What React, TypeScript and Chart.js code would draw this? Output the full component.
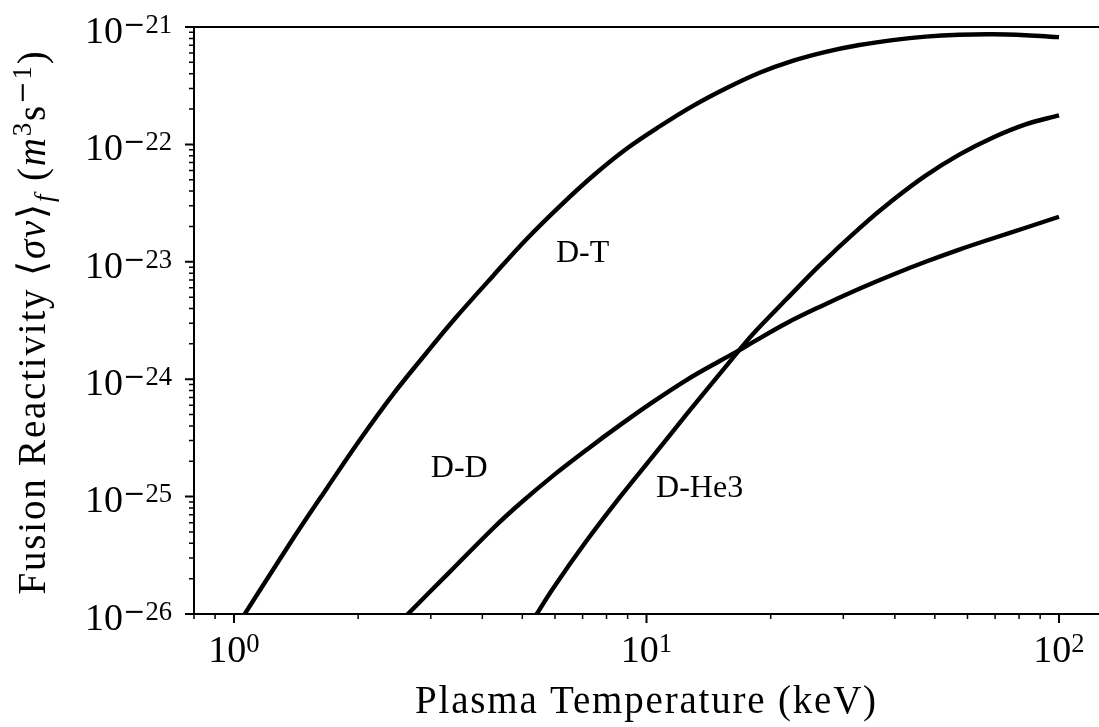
import React, { useEffect, useRef } from "react";
import { Chart, registerables } from "chart.js";

Chart.register(...registerables);

// ---------- data ----------
const DT_T = [1.0, 1.39, 1.68, 2.02, 2.43, 2.93, 3.43, 4.25, 5.11, 6.16, 7.41, 8.93, 10.75, 12.9, 15.6, 18.8, 22.6, 27.2, 32.8, 39.5, 47.5, 57.3, 69.0, 83.0, 100];
const DT_SV = [7.19e-27, 4.37e-26, 1.18e-25, 3.05e-25, 7.43e-25, 1.68e-24, 3.27e-24, 7.62e-24, 1.55e-23, 2.97e-23, 5.38e-23, 9.14e-23, 1.42e-22, 2.11e-22, 3.01e-22, 4.08e-22, 5.15e-22, 6.15e-22, 7.03e-22, 7.74e-22, 8.28e-22, 8.59e-22, 8.67e-22, 8.51e-22, 8.2e-22];

const DD_T = [2.5, 2.64, 3.35, 4.25, 4.93, 5.94, 7.15, 8.62, 10.37, 12.5, 15.05, 16.67, 18.12, 21.83, 26.28, 32.8, 39.5, 47.5, 57.3, 69.0, 83.0, 100];
const DD_SV = [8.2e-27, 1.0e-26, 2.32e-26, 5.38e-26, 8.69e-26, 1.51e-25, 2.5e-25, 4.06e-25, 6.41e-25, 9.84e-25, 1.43e-24, 1.74e-24, 2.07e-24, 3.0e-24, 4.13e-24, 5.89e-24, 7.76e-24, 1.0e-23, 1.27e-23, 1.58e-23, 1.95e-23, 2.42e-23];

const DHE3_T = [5.0, 5.42, 5.94, 7.15, 8.62, 10.37, 12.5, 15.05, 16.67, 18.12, 21.83, 26.28, 32.8, 39.5, 47.5, 57.3, 69.0, 83.0, 100];
const DHE3_SV = [6.27e-27, 1.0e-26, 1.66e-26, 4.18e-26, 9.89e-26, 2.21e-25, 5.01e-25, 1.11e-24, 1.72e-24, 2.43e-24, 4.79e-24, 9.33e-24, 1.93e-23, 3.34e-23, 5.42e-23, 8.18e-23, 1.14e-22, 1.48e-22, 1.77e-22];

const CURVE_LABELS = ["D-T", "D-D", "D-He3"];
const CURVE_LABEL_T = [6.03, 3.0, 10.55];
const CURVE_LABEL_SV = [1.0e-23, 1.48e-25, 1.0e-25];

const X_MIN = 0.8;
const X_MAX = 125;
const Y_MIN = 1e-26;
const Y_MAX = 1e-21;

const X_MAJOR_TICKS = [1, 10, 100];
const X_TICK_EXPONENTS = ["0", "1", "2"];
const X_MINOR_TICKS = [0.8, 0.9, 2, 3, 4, 5, 6, 7, 8, 9, 20, 30, 40, 50, 60, 70, 80, 90];

const Y_MAJOR_TICKS = [1e-21, 1e-22, 1e-23, 1e-24, 1e-25, 1e-26];
const Y_TICK_EXPONENTS = ["21", "22", "23", "24", "25", "26"];
const Y_MINOR_DECADES = [1e-26, 1e-25, 1e-24, 1e-23, 1e-22];
const Y_MINOR_MULTIPLIERS = [2, 3, 4, 5, 6, 7, 8, 9];

const TICK_BASE = "10";
const MINUS = "\u2212";
const X_TITLE = "Plasma Temperature (keV)";

// ---------- styling ----------
const FAMILY = '"Liberation Serif", "DejaVu Serif", serif';
const MINUS_FAMILY = '"DejaVu Serif", serif';

type Seg = { t: string; size: number; italic?: boolean; dy?: number; family?: string };

const Y_TITLE_SEGS: Seg[] = [
  { t: "Fusion Reactivity ", size: 39 },
  { t: "\u27E8", size: 39 },
  { t: "\u03C3v", size: 39, italic: true },
  { t: "\u27E9", size: 39 },
  { t: "f", size: 27, italic: true, dy: 8 },
  { t: " (", size: 39 },
  { t: "m", size: 39, italic: true },
  { t: "3", size: 27, dy: -14 },
  { t: "s", size: 39 },
  { t: MINUS, size: 27, dy: -14, family: MINUS_FAMILY },
  { t: "1", size: 27, dy: -14 },
  { t: ")", size: 39 },
];

function setFont(ctx: CanvasRenderingContext2D, s: Seg) {
  ctx.font = `${s.italic ? "italic " : ""}${s.size}px ${s.family || FAMILY}`;
}

function segsWidth(ctx: CanvasRenderingContext2D, segs: Seg[], spacing: number) {
  let w = 0;
  for (const s of segs) {
    setFont(ctx, s);
    (ctx as any).letterSpacing = `${spacing}px`;
    w += ctx.measureText(s.t).width;
  }
  return w;
}

function drawSegs(ctx: CanvasRenderingContext2D, segs: Seg[], x: number, y: number, spacing: number) {
  let cx = x;
  for (const s of segs) {
    setFont(ctx, s);
    (ctx as any).letterSpacing = `${spacing}px`;
    ctx.fillText(s.t, cx, y + (s.dy || 0));
    cx += ctx.measureText(s.t).width;
  }
}

function powerSegs(exp: string, negative: boolean): Seg[] {
  const segs: Seg[] = [{ t: TICK_BASE, size: 38 }];
  if (negative) segs.push({ t: MINUS, size: 26.6, dy: -10, family: MINUS_FAMILY });
  segs.push({ t: exp, size: 26.6, dy: -10 });
  return segs;
}

const overlayPlugin = {
  id: "overlay",
  afterDraw(chart: any) {
    const ctx: CanvasRenderingContext2D = chart.ctx;
    const a = chart.chartArea;
    const xs = chart.scales.x;
    const ys = chart.scales.y;
    ctx.save();
    ctx.strokeStyle = "#000";
    ctx.fillStyle = "#000";
    ctx.textBaseline = "alphabetic";
    ctx.textAlign = "left";

    // spines (left, bottom, top)
    ctx.lineWidth = 2;
    ctx.beginPath();
    ctx.moveTo(a.left - 1, a.top);
    ctx.lineTo(a.right + 2, a.top);
    ctx.moveTo(a.left, a.top - 1);
    ctx.lineTo(a.left, a.bottom + 1);
    ctx.moveTo(a.left - 1, a.bottom);
    ctx.lineTo(a.right + 2, a.bottom);
    ctx.stroke();

    // major ticks
    ctx.lineWidth = 2;
    ctx.beginPath();
    for (const v of X_MAJOR_TICKS) {
      const px = xs.getPixelForValue(v);
      ctx.moveTo(px, a.bottom);
      ctx.lineTo(px, a.bottom + 9);
    }
    for (const v of Y_MAJOR_TICKS) {
      const py = ys.getPixelForValue(v);
      ctx.moveTo(a.left, py);
      ctx.lineTo(a.left - 9, py);
    }
    ctx.stroke();

    // minor ticks
    ctx.lineWidth = 1.5;
    ctx.beginPath();
    for (const v of X_MINOR_TICKS) {
      const px = xs.getPixelForValue(v);
      ctx.moveTo(px, a.bottom);
      ctx.lineTo(px, a.bottom + 5);
    }
    for (const d of Y_MINOR_DECADES) {
      for (const m of Y_MINOR_MULTIPLIERS) {
        const py = ys.getPixelForValue(m * d);
        ctx.moveTo(a.left, py);
        ctx.lineTo(a.left - 5, py);
      }
    }
    ctx.stroke();

    // x tick labels
    X_MAJOR_TICKS.forEach((v, i) => {
      const px = xs.getPixelForValue(v);
      const segs = powerSegs(X_TICK_EXPONENTS[i], false);
      const w = segsWidth(ctx, segs, 0);
      drawSegs(ctx, segs, px - w / 2, a.bottom + 48, 0);
    });

    // y tick labels
    Y_MAJOR_TICKS.forEach((v, i) => {
      const py = ys.getPixelForValue(v);
      const segs = powerSegs(Y_TICK_EXPONENTS[i], true);
      const w = segsWidth(ctx, segs, 0);
      drawSegs(ctx, segs, a.left - 22 - w, py + 15.7, 0);
    });

    // x title
    const xt: Seg[] = [{ t: X_TITLE, size: 39 }];
    const xw = segsWidth(ctx, xt, 1.8);
    drawSegs(ctx, xt, (a.left + a.right) / 2 - xw / 2, a.bottom + 99, 1.8);

    // y title (rotated)
    ctx.save();
    ctx.translate(45, (a.top + a.bottom) / 2 + 1.5);
    ctx.rotate(-Math.PI / 2);
    const yw = segsWidth(ctx, Y_TITLE_SEGS, 1.8);
    drawSegs(ctx, Y_TITLE_SEGS, -yw / 2, 0, 1.8);
    ctx.restore();

    // curve labels
    CURVE_LABELS.forEach((lab, i) => {
      const px = xs.getPixelForValue(CURVE_LABEL_T[i]);
      const py = ys.getPixelForValue(CURVE_LABEL_SV[i]);
      drawSegs(ctx, [{ t: lab, size: 32 }], px, py, 0);
    });

    (ctx as any).letterSpacing = "0px";
    ctx.restore();
  },
};

function pts(ts: number[], vs: number[]) {
  return ts.map((t, i) => ({ x: t, y: vs[i] }));
}

export default function App() {
  const ref = useRef<HTMLCanvasElement>(null);

  useEffect(() => {
    const canvas = ref.current;
    if (!canvas) return;
    const line = (label: string, data: { x: number; y: number }[]) => ({
      label,
      data,
      borderColor: "#000",
      backgroundColor: "#000",
      borderWidth: 4.4,
      pointRadius: 0,
      pointHoverRadius: 0,
      fill: false,
      tension: 0.35,
      clip: 0,
    });
    const chart = new Chart(canvas, {
      type: "line",
      data: {
        datasets: [
          line(CURVE_LABELS[0], pts(DT_T, DT_SV)),
          line(CURVE_LABELS[1], pts(DD_T, DD_SV)),
          line(CURVE_LABELS[2], pts(DHE3_T, DHE3_SV)),
        ],
      },
      options: {
        animation: false,
        responsive: false,
        devicePixelRatio: 1,
        events: [],
        layout: { padding: { left: 194, top: 27, right: 0, bottom: 113 } },
        plugins: {
          legend: { display: false },
          tooltip: { enabled: false },
          title: { display: false },
        },
        scales: {
          x: { type: "logarithmic", min: X_MIN, max: X_MAX, display: false },
          y: { type: "logarithmic", min: Y_MIN, max: Y_MAX, display: false },
        },
      },
      plugins: [overlayPlugin],
    });
    return () => chart.destroy();
  }, []);

  return (
    <div style={{ position: "fixed", left: 0, top: 0, width: 1099, height: 727, background: "#fff" }}>
      <canvas ref={ref} width={1099} height={727} style={{ display: "block", width: 1099, height: 727 }} />
    </div>
  );
}
